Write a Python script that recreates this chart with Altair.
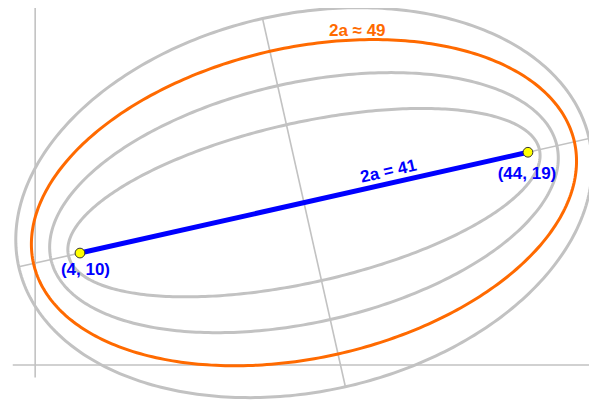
import numpy as np
import pandas as pd
import altair as alt

# ---- data ----
focus_x = [4, 44]
focus_y = [10, 19]
focus_labels = ["(4, 10)", "(44, 19)"]
segment_label = "2a = 41"

ellipse_names = ["e43", "e46", "e49", "e52"]
semi_major = [21.55, 23.15, 24.75, 26.1]
semi_minor = [7.13, 10.7, 13.85, 16.85]
highlight_name = "e49"
highlight_label = "2a ≈ 49"

axis_x_extent = [-2.0, 49.5]   # horizontal reference line (y = 0)
axis_y_extent = [-1.1, 32.5]   # vertical reference line (x = 0)

x_domain = [-2.425, 49.45]
y_domain = [-3.12, 31.88]

# ---- geometry ----
cx = (focus_x[0] + focus_x[1]) / 2
cy = (focus_y[0] + focus_y[1]) / 2
theta = np.arctan2(focus_y[1] - focus_y[0], focus_x[1] - focus_x[0])
ct, st = np.cos(theta), np.sin(theta)

rows = []
for name, a, b in zip(ellipse_names, semi_major, semi_minor):
    t = np.linspace(0, 2 * np.pi, 361)
    xs = cx + a * np.cos(t) * ct - b * np.sin(t) * st
    ys = cy + a * np.cos(t) * st + b * np.sin(t) * ct
    for i, (xv, yv) in enumerate(zip(xs, ys)):
        rows.append({"name": name, "x": xv, "y": yv, "ord": i})
ell = pd.DataFrame(rows)
gray_ell = ell[ell["name"] != highlight_name]
orange_ell = ell[ell["name"] == highlight_name]

a_out, b_out = semi_major[-1], semi_minor[-1]
guide = pd.DataFrame([
    {"x": axis_x_extent[0], "x2": axis_x_extent[1], "y": 0, "y2": 0},
    {"x": 0, "x2": 0, "y": axis_y_extent[0], "y2": axis_y_extent[1]},
    {"x": cx - a_out * ct, "x2": cx + a_out * ct, "y": cy - a_out * st, "y2": cy + a_out * st},
    {"x": cx + b_out * st, "x2": cx - b_out * st, "y": cy - b_out * ct, "y2": cy + b_out * ct},
])

foci = pd.DataFrame({"x": focus_x, "y": focus_y, "label": focus_labels, "ord": [0, 1]})

frac = 0.7
seg_lab = pd.DataFrame({
    "x": [focus_x[0] + frac * (focus_x[1] - focus_x[0])],
    "y": [focus_y[0] + frac * (focus_y[1] - focus_y[0])],
    "label": [segment_label],
})

ha, hb = semi_major[ellipse_names.index(highlight_name)], semi_minor[ellipse_names.index(highlight_name)]
yext = np.sqrt(ha**2 * st**2 + hb**2 * ct**2)
xoff = (ha**2 - hb**2) * st * ct / yext
hl_lab = pd.DataFrame({"x": [cx + xoff], "y": [cy + yext], "label": [highlight_label]})

X = lambda f="x": alt.X(f, type="quantitative", scale=alt.Scale(domain=x_domain, nice=False, zero=False), axis=None)
Y = lambda f="y": alt.Y(f, type="quantitative", scale=alt.Scale(domain=y_domain, nice=False, zero=False), axis=None)

GRAY = "#c2c2c2"
FONT = "Liberation Sans"

guides = alt.Chart(guide).mark_rule(color=GRAY, strokeWidth=1.6).encode(
    x=X(), x2="x2", y=Y(), y2="y2")

grays = alt.Chart(gray_ell).mark_line(color=GRAY, strokeWidth=3).encode(
    x=X(), y=Y(), order="ord", detail="name")

orange = alt.Chart(orange_ell).mark_line(color="#ff6a00", strokeWidth=3).encode(
    x=X(), y=Y(), order="ord")

segment = alt.Chart(foci).mark_line(color="#0000ff", strokeWidth=5).encode(
    x=X(), y=Y(), order="ord")

points = alt.Chart(foci).mark_circle(size=95, color="#ffff00", stroke="#333333",
                                     strokeWidth=1, opacity=1).encode(x=X(), y=Y())

lab1 = alt.Chart(foci.iloc[[0]]).mark_text(
    font=FONT, fontSize=17, fontWeight="bold", color="#0000ff",
    align="center", baseline="middle", dx=5.5, dy=17).encode(x=X(), y=Y(), text="label")
lab2 = alt.Chart(foci.iloc[[1]]).mark_text(
    font=FONT, fontSize=17, fontWeight="bold", color="#0000ff",
    align="center", baseline="middle", dx=-1, dy=22).encode(x=X(), y=Y(), text="label")

seg_text = alt.Chart(seg_lab).mark_text(
    font=FONT, fontSize=17, fontWeight="bold", color="#0000ff",
    align="center", baseline="middle", angle=float(360 - np.degrees(theta)),
    dx=-2.6, dy=-11.7).encode(x=X(), y=Y(), text="label")

hl_text = alt.Chart(hl_lab).mark_text(
    font=FONT, fontSize=17, fontWeight="bold", color="#ff6a00",
    align="center", baseline="middle", dx=-16, dy=-8.5).encode(x=X(), y=Y(), text="label")

chart = alt.layer(guides, grays, orange, segment, points, lab1, lab2, seg_text, hl_text).properties(
    width=581, height=392, padding=0, autosize=alt.AutoSizeParams(type="none")
).configure_view(stroke=None)

chart.save("out.html", embed_options={"renderer": "svg", "actions": False})
